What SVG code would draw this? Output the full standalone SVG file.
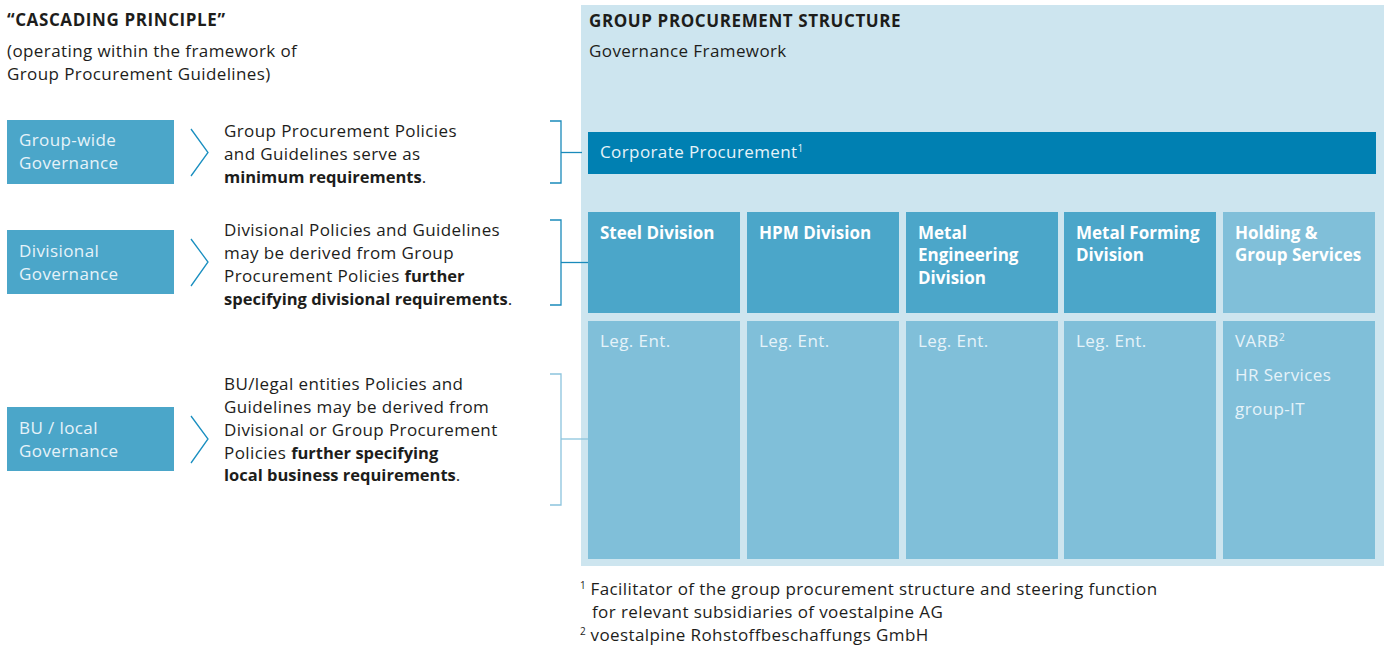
<svg xmlns="http://www.w3.org/2000/svg" width="1389" height="647" viewBox="0 0 1389 647">
<style>
text{font-family:"Open Sans","Noto Sans","Liberation Sans",sans-serif;font-size:17px;letter-spacing:0.4px;fill:#1d1d1b}
.b{font-weight:bold;font-size:16.5px;letter-spacing:0}
.dh{font-weight:bold;font-size:17px;letter-spacing:0;fill:#ffffff}
.w{fill:#ffffff}
.lw{fill:#e6f3f9}
.mid{fill:#4ba6c9}
.lt{fill:#80bfd9}
.chev{fill:none;stroke:#1a8fc0;stroke-width:1.3}
.br1{fill:none;stroke:#1a8abb;stroke-width:1.3}
.br2{fill:none;stroke:#8cc4dd;stroke-width:1.3}
.h{font-size:17px;font-weight:bold;letter-spacing:0.6px}
.sup{font-size:10px;letter-spacing:0}
</style>
<rect x="581" y="5" width="803" height="561" fill="#cde5ef"/>
<text x="7" y="26" class="h">“CASCADING PRINCIPLE”</text>
<text x="7" y="57">(operating within the framework of</text>
<text x="7" y="80">Group Procurement Guidelines)</text>
<text x="589" y="27" class="h">GROUP PROCUREMENT STRUCTURE</text>
<text x="589" y="57">Governance Framework</text>

<g id="group-wide">
<rect x="7" y="120" width="167" height="64" class="mid"/>
<text x="19" y="146" class="lw">Group-wide</text>
<text x="19" y="169" class="lw">Governance</text>
<text x="224" y="137">Group Procurement Policies</text>
<text x="224" y="160">and Guidelines serve as</text>
<text x="224" y="183"><tspan class="b">minimum requirements</tspan>.</text>
</g>
<g id="divisional">
<rect x="7" y="230" width="167" height="64" class="mid"/>
<text x="19" y="257" class="lw">Divisional</text>
<text x="19" y="280" class="lw">Governance</text>
<text x="224" y="236">Divisional Policies and Guidelines</text>
<text x="224" y="259">may be derived from Group</text>
<text x="224" y="282">Procurement Policies <tspan class="b">further</tspan></text>
<text x="224" y="305"><tspan class="b">specifying divisional requirements</tspan>.</text>
</g>
<g id="bu-local">
<rect x="7" y="407" width="167" height="64" class="mid"/>
<text x="19" y="434" class="lw">BU / local</text>
<text x="19" y="457" class="lw">Governance</text>
<text x="224" y="390">BU/legal entities Policies and</text>
<text x="224" y="413">Guidelines may be derived from</text>
<text x="224" y="436">Divisional or Group Procurement</text>
<text x="224" y="459">Policies <tspan class="b">further specifying</tspan></text>
<text x="224" y="481"><tspan class="b">local business requirements</tspan>.</text>
</g>

<g id="corporate">
<rect x="588" y="132" width="788" height="42" fill="#0080b2"/>
<text x="600" y="158" class="lw">Corporate Procurement<tspan class="sup" dy="-6">1</tspan></text>
</g>
<g id="steel">
<rect x="588" y="212" width="152" height="101" class="mid"/>
<text x="600" y="239" class="dh">Steel Division</text>
<rect x="588" y="321" width="152" height="238" class="lt"/>
<text x="600" y="347" class="lw">Leg. Ent.</text>
</g>
<g id="hpm">
<rect x="747" y="212" width="152" height="101" class="mid"/>
<text x="759" y="239" class="dh">HPM Division</text>
<rect x="747" y="321" width="152" height="238" class="lt"/>
<text x="759" y="347" class="lw">Leg. Ent.</text>
</g>
<g id="metal-engineering">
<rect x="906" y="212" width="152" height="101" class="mid"/>
<text x="918" y="239" class="dh">Metal</text>
<text x="918" y="261" class="dh">Engineering</text>
<text x="918" y="284" class="dh">Division</text>
<rect x="906" y="321" width="152" height="238" class="lt"/>
<text x="918" y="347" class="lw">Leg. Ent.</text>
</g>
<g id="metal-forming">
<rect x="1064" y="212" width="152" height="101" class="mid"/>
<text x="1076" y="239" class="dh">Metal Forming</text>
<text x="1076" y="261" class="dh">Division</text>
<rect x="1064" y="321" width="152" height="238" class="lt"/>
<text x="1076" y="347" class="lw">Leg. Ent.</text>
</g>
<g id="holding">
<rect x="1223" y="212" width="152" height="101" class="lt"/>
<text x="1235" y="239" class="dh">Holding &amp;</text>
<text x="1235" y="261" class="dh">Group Services</text>
<rect x="1223" y="321" width="152" height="238" class="lt"/>
<text x="1235" y="347" class="lw">VARB<tspan class="sup" dy="-6">2</tspan></text>
<text x="1235" y="381" class="lw">HR Services</text>
<text x="1235" y="415" class="lw">group-IT</text>
</g>

<g id="connectors">
<polyline class="chev" points="191,129 208,152.5 191,176"/>
<polyline class="chev" points="191,239 208,262 191,286"/>
<polyline class="chev" points="191,416 208,439 191,463"/>
<polyline class="br1" points="550,121 561,121 561,183 550,183"/>
<line class="br1" x1="561" y1="152.5" x2="582" y2="152.5"/>
<polyline class="br1" points="550,220 561,220 561,305 550,305"/>
<line class="br1" x1="561" y1="262.5" x2="588" y2="262.5"/>
<polyline class="br2" points="550,374 561,374 561,505 550,505"/>
<line class="br2" x1="561" y1="439" x2="588" y2="439"/>
</g>

<g id="footnotes">
<text x="580" y="595"><tspan class="sup" dy="-6">1</tspan><tspan dy="6"> Facilitator of the group procurement structure and steering function</tspan></text>
<text x="592" y="618">for relevant subsidiaries of voestalpine AG</text>
<text x="580" y="641"><tspan class="sup" dy="-6">2</tspan><tspan dy="6"> voestalpine Rohstoffbeschaffungs GmbH</tspan></text>
</g>
</svg>
